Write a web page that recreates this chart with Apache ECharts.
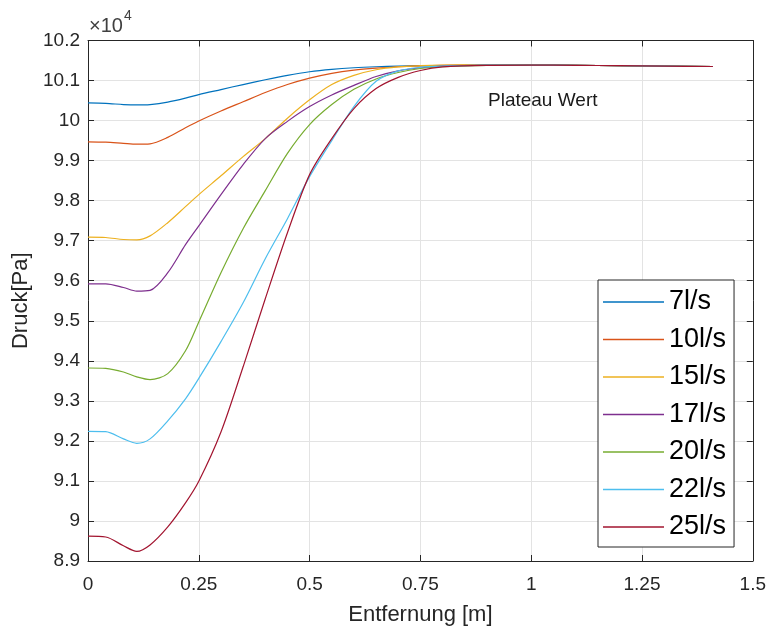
<!DOCTYPE html>
<html>
<head>
<meta charset="utf-8">
<script src="https://cdn.jsdelivr.net/npm/echarts@6/dist/echarts.min.js"></script>
<style>
  html, body { margin: 0; padding: 0; background: #fff; }
  #chart { width: 769px; height: 631px; }
</style>
</head>
<body>
<div id="chart"></div>
<script>
// Distance along the pipe [m]
const distance = [0, 0.04, 0.08, 0.11, 0.14, 0.18, 0.22, 0.25, 0.3, 0.35, 0.4, 0.45, 0.5,
                  0.55, 0.6, 0.65, 0.7, 0.75, 0.8, 0.9, 1.0, 1.1, 1.2, 1.3, 1.41];

// Pressure [Pa] for each flow rate
const p7  = [100440, 100430, 100400, 100390, 100400, 100460, 100560, 100650, 100775, 100900, 101020, 101130, 101220,
             101280, 101320, 101345, 101360, 101370, 101375, 101385, 101385, 101380, 101370, 101360, 101350];
const p10 = [99470, 99460, 99430, 99410, 99420, 99580, 99820, 99990, 100240, 100470, 100700, 100900, 101060,
             101180, 101260, 101310, 101345, 101365, 101378, 101388, 101388, 101380, 101370, 101360, 101350];
const p15 = [97090, 97080, 97030, 97020, 97120, 97450, 97850, 98150, 98620, 99100, 99550, 100060, 100520,
             100900, 101130, 101270, 101340, 101370, 101385, 101390, 101388, 101380, 101370, 101360, 101350];
const p17 = [95920, 95920, 95830, 95740, 95760, 96200, 96900, 97370, 98150, 98900, 99550, 99980, 100350,
             100640, 100880, 101100, 101240, 101320, 101360, 101385, 101388, 101380, 101370, 101360, 101350];
const p20 = [93820, 93810, 93720, 93600, 93530, 93680, 94250, 94970, 96200, 97300, 98250, 99180, 99900,
             100400, 100780, 101040, 101200, 101300, 101345, 101380, 101385, 101380, 101370, 101360, 101350];
const p22 = [92240, 92230, 92050, 91940, 92050, 92500, 93050, 93560, 94480, 95450, 96550, 97550, 98600,
             99500, 100350, 100980, 101240, 101330, 101360, 101385, 101385, 101380, 101370, 101360, 101350];
const p25 = [89620, 89600, 89380, 89240, 89400, 89850, 90450, 90990, 92220, 93850, 95550, 97200, 98650,
             99550, 100300, 100800, 101080, 101250, 101340, 101380, 101385, 101380, 101370, 101360, 101350];

const seriesNames = ['7l/s', '10l/s', '15l/s', '17l/s', '20l/s', '22l/s', '25l/s'];
const seriesValues = [p7, p10, p15, p17, p20, p22, p25];
const seriesColors = ['#0072BD', '#D95319', '#EDB120', '#7E2F8E', '#77AC30', '#4DBEEE', '#A2142F'];

const xTicks = { min: 0, max: 1.5, step: 0.25 };
const yTicks = { min: 89000, max: 102000, step: 1000 };

const FONT = '"Liberation Sans", Arial, Helvetica, sans-serif';
const AXIS_COLOR = '#262626';
const GRID_COLOR = '#e3e3e3';

const chart = echarts.init(document.getElementById('chart'), null, { renderer: 'canvas' });

function yLabel(v) {
  return String(parseFloat((v / 1e4).toFixed(2)));
}

const frameX = {
  type: 'value', min: xTicks.min, max: xTicks.max, interval: xTicks.step,
  axisLine: { show: true, onZero: false, lineStyle: { color: AXIS_COLOR, width: 1 } },
  axisTick: { show: true, inside: true, length: 6, lineStyle: { color: AXIS_COLOR } },
  splitLine: { show: false }
};
const frameY = {
  type: 'value', min: yTicks.min, max: yTicks.max, interval: yTicks.step,
  axisLine: { show: true, onZero: false, lineStyle: { color: AXIS_COLOR, width: 1 } },
  axisTick: { show: true, inside: true, length: 6, lineStyle: { color: AXIS_COLOR } },
  splitLine: { show: false }
};

const option = {
  animation: false,
  backgroundColor: '#ffffff',
  textStyle: { fontFamily: FONT },
  grid: { left: 88, right: 15, top: 40.5, bottom: 68, containLabel: false },
  xAxis: [
    Object.assign({}, frameX, {
      position: 'bottom',
      axisLabel: { show: true, color: AXIS_COLOR, fontSize: 19, fontFamily: FONT, margin: 14,
                   formatter: v => String(v) },
      splitLine: { show: true, lineStyle: { color: GRID_COLOR, width: 1 } },
      name: 'Entfernung [m]', nameLocation: 'middle', nameGap: 43,
      nameTextStyle: { color: AXIS_COLOR, fontSize: 22, fontFamily: FONT }
    }),
    Object.assign({}, frameX, { position: 'top', axisLabel: { show: false } })
  ],
  yAxis: [
    Object.assign({}, frameY, {
      position: 'left',
      axisLabel: { show: true, color: AXIS_COLOR, fontSize: 19, fontFamily: FONT, margin: 8,
                   formatter: yLabel },
      splitLine: { show: true, lineStyle: { color: GRID_COLOR, width: 1 } },
      name: 'Druck[Pa]', nameLocation: 'middle', nameGap: 52,
      nameTextStyle: { color: AXIS_COLOR, fontSize: 22, fontFamily: FONT }
    }),
    Object.assign({}, frameY, { position: 'right', axisLabel: { show: false } })
  ],
  legend: {
    orient: 'vertical',
    left: 598, top: 280,
    padding: [7, 8, 5, 5],
    itemWidth: 61, itemHeight: 1.4, itemGap: 7.5,
    icon: 'rect',
    backgroundColor: '#ffffff',
    borderColor: AXIS_COLOR, borderWidth: 1, borderRadius: 0,
    textStyle: { color: '#000000', fontSize: 27, lineHeight: 30, fontFamily: FONT },
    data: seriesNames
  },
  graphic: [
    { type: 'text', x: 89, y: 16,
      style: { text: '×10', fontSize: 20, fontFamily: 'Liberation Sans', fill: '#404040' } },
    { type: 'text', x: 124, y: 9,
      style: { text: '4', fontSize: 14, fontFamily: 'Liberation Sans', fill: '#404040' } },
    { type: 'text', x: 488, y: 91,
      style: { text: 'Plateau Wert', fontSize: 19, fontFamily: 'Liberation Sans', fill: '#1a1a1a' } }
  ],
  series: seriesNames.map((name, i) => ({
    name: name,
    type: 'line',
    xAxisIndex: 0, yAxisIndex: 0,
    data: distance.map((x, j) => [x, seriesValues[i][j]]),
    symbol: 'none', showSymbol: false,
    smooth: 0.3,
    color: seriesColors[i],
    lineStyle: { color: seriesColors[i], width: 1.2 },
    z: 2 + i
  }))
};

chart.setOption(option);
</script>
</body>
</html>
